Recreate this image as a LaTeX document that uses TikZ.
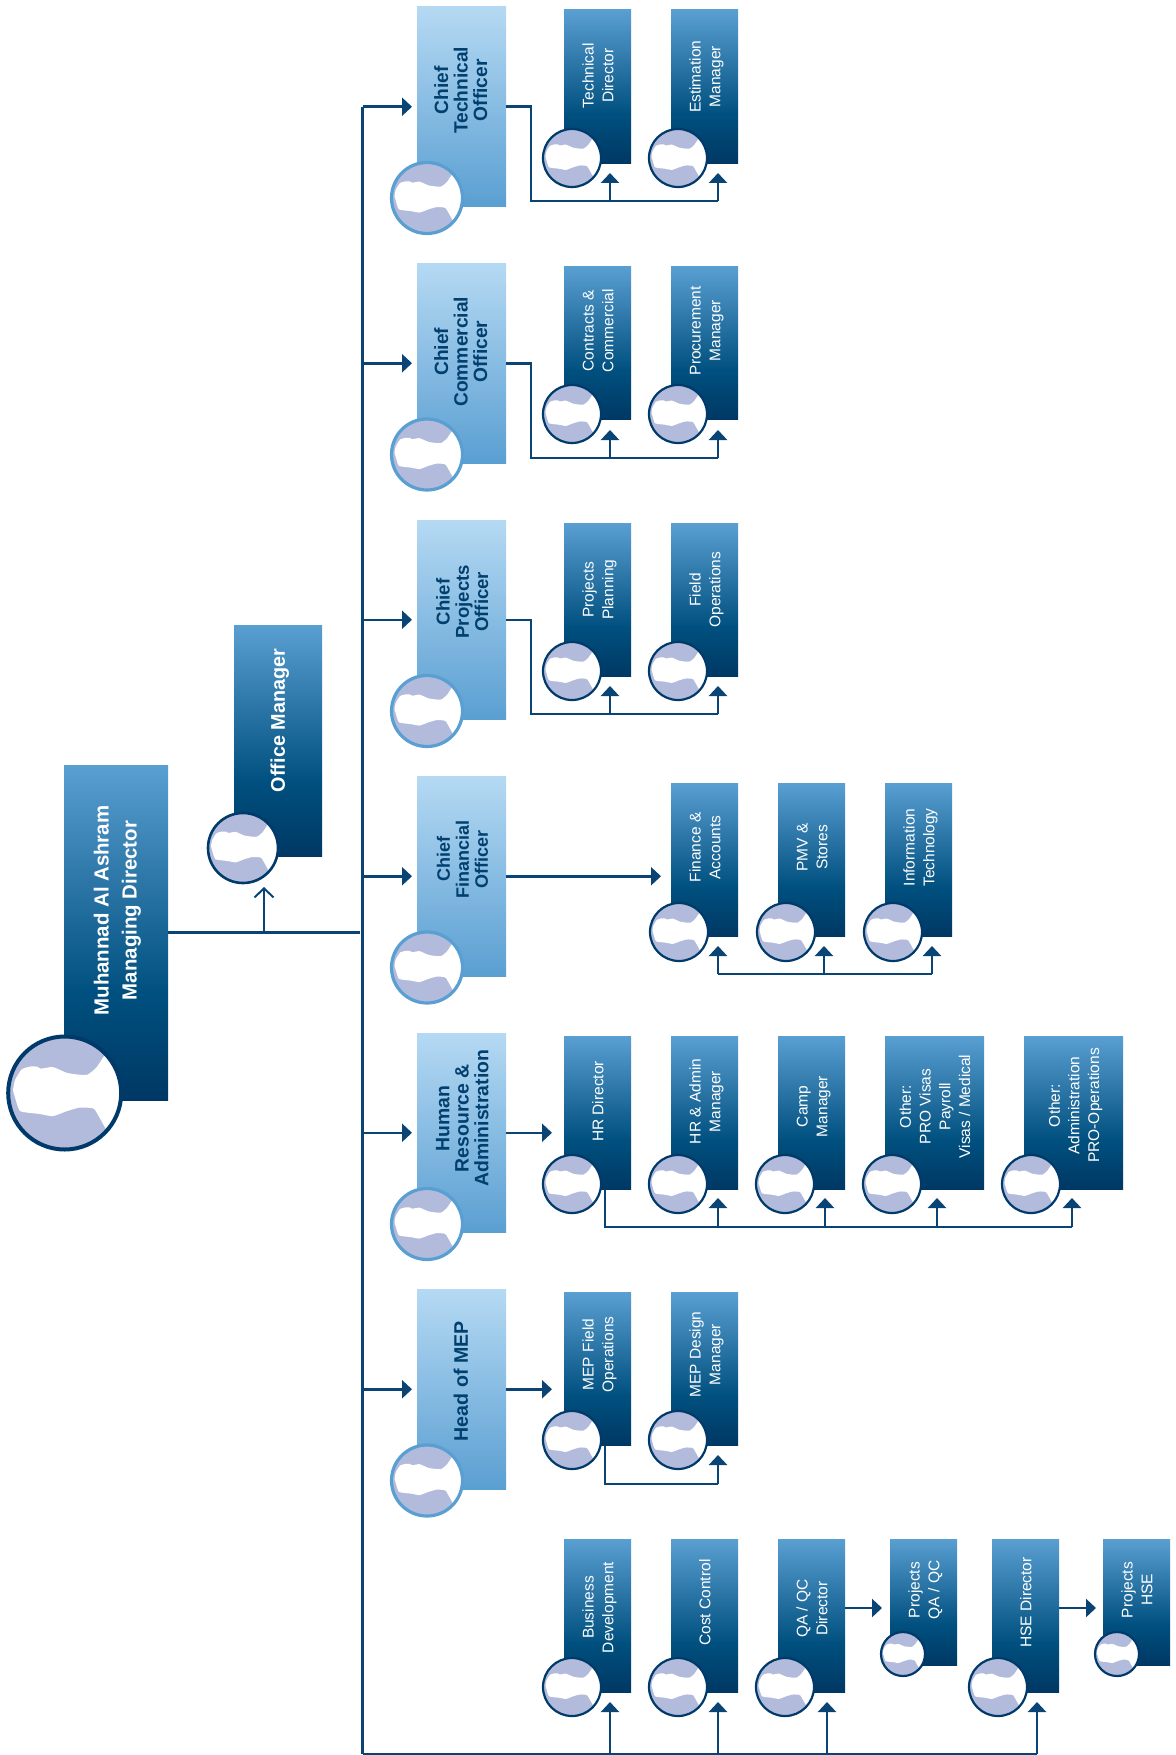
\documentclass[tikz,border=0pt]{standalone}
\usepackage{fontspec}
\usepackage{graphicx}
\setmainfont{Liberation Sans}
\usetikzlibrary{arrows.meta,calc}
\definecolor{navy}{HTML}{0A4474}
\definecolor{ringdark}{HTML}{003A6A}
\definecolor{ringlight}{HTML}{5A9FD2}
\definecolor{lilac}{HTML}{B3BBDC}
\definecolor{dkA}{HTML}{5A9FD2}
\definecolor{dkB}{HTML}{00507F}
\definecolor{dkC}{HTML}{003864}
\definecolor{ltA}{HTML}{B5D9F3}
\definecolor{ltB}{HTML}{5A9FD2}
\definecolor{chieftext}{HTML}{003F6E}
\pgfdeclareverticalshading{darkbox}{100bp}{color(0bp)=(dkC); color(25bp)=(dkC); color(41bp)=(dkB); color(75bp)=(dkA); color(100bp)=(dkA)}
\pgfdeclareverticalshading{lightbox}{100bp}{color(0bp)=(ltB); color(25bp)=(ltB); color(75bp)=(ltA); color(100bp)=(ltA)}
\newcommand{\blobshape}{%
  \fill[white] plot[smooth,tension=.3] coordinates {(-.88,.07)(-.914,-.05)(-.88,-.23)(-.76,-.42)(-.6,-.47)(-.485,-.466)(-.42,-.43)(-.21,-.46)(.04,-.356)(.25,-.325)(.405,-.325)(.56,-.45)(.72,-.69)}
   -- (1.1,-.69) -- (1.1,.66) -- (.74,.66) -- plot[smooth,tension=.3] coordinates {(.74,.66)(.53,.29)(.4,.26)(.25,.26)(.04,.32)(-.21,.41)(-.45,.37)(-.79,.32)(-.88,.07)} -- cycle;}
\tikzset{
  boxbase/.style={rectangle,inner sep=0pt,outer sep=0pt,anchor=north west},
  kidbox/.style={boxbase,shading=darkbox,text=white},
  chiefbox/.style={boxbase,shading=lightbox,text=chieftext,minimum width=89pt,minimum height=199.5pt},
  portrait/.style={circle,inner sep=0pt,outer sep=0pt,minimum size=#1,fill=lilac,
    path picture={\begin{scope}[shift={(path picture bounding box.center)},x={#1*0.5pt},y={#1*-0.5pt}]\blobshape\end{scope}}},
  kidring/.style={portrait=#1,draw=ringdark,line width=2.2pt},
  chiefring/.style={portrait=71,draw=ringlight,line width=3.2pt},
  link/.style={draw=navy,line width=2.5pt},
  tip/.style={-{Triangle[length=10pt,width=18pt]},draw=navy,fill=navy,line width=2.5pt},
  opentip/.style={-{Straight Barb[length=9pt,width=19pt]},draw=navy,line width=2pt},
}
% rotated multi-line label: #1 size, #2 leading, #3 upward shift doubled, #4 lines
\newcommand{\vtext}[4]{\hspace*{4pt}\rotatebox{90}{\hspace*{#3pt}\fontsize{#1}{#2}\selectfont\begin{tabular}{@{}c@{}}#4\end{tabular}}}
\newcommand{\bvtext}[5][4]{\hspace*{#1pt}\rotatebox{90}{\hspace*{#4pt}\bfseries\fontsize{#2}{#3}\selectfont\begin{tabular}{@{}c@{}}#5\end{tabular}}}
\newcommand{\kid}[7][67]{% width, name, x, y, height, shift, text
  \node[kidbox,minimum width=#1pt,minimum height=#5pt] (#2) at (#3,#4) {\vtext{15.5}{19.7}{#6}{#7}};
}
\newcommand{\kidface}[4][58]{\node[kidring=#1] (#2) at (#3,#4) {};}
\newcommand{\chief}[7]{% name, y, shift, size, side shift, text, face y
  \node[chiefbox] (#1) at (417,#2) {\bvtext[#5]{#4}{19}{#3}{#6}};
  \node[chiefring] (#1face) at (427,#7) {};
}
\begin{document}
\begin{tikzpicture}[x=1pt,y=-1pt]
\useasboundingbox (0,0) rectangle (1175,1755);
\coordinate (trunktop) at (362.5,107);
\coordinate (trunkbottom) at (362.5,1754);

% Managing director
\node[kidbox,minimum width=104pt,minimum height=335pt] (md) at (64,765) {\bvtext[2]{20.4}{28}{44}{Muhannad Al Ashram\\Managing Director}};
\node[kidring=113,line width=4pt] (mdface) at (64.7,1093) {};
% Office manager
\node[kidbox,minimum width=88pt,minimum height=231pt] (office) at (234,625) {\bvtext{19.8}{24}{40}{Office Manager}};
\node[kidring=70,line width=2.6pt] (officeface) at (243,848) {};

% Chiefs
\chief{cto}{7}{33}{19.2}{4}{Chief\\Technical\\Officer}{198}
\chief{cco}{263.5}{23}{19.2}{4}{Chief\\Commercial\\Officer}{454.5}
\chief{cpo}{520}{36}{18.6}{7}{Chief\\Projects\\Officer}{711}
\chief{cfo}{776.5}{34}{18}{7}{Chief\\Financial\\Officer}{967.5}
\chief{hra}{1033}{29}{19.4}{7}{Human\\Resource \&\\Administration}{1224}
\chief{mep}{1289.5}{16}{19.6}{4}{Head of MEP}{1480.5}

% Row 0
\kid{td}{564}{10}{153.5}{22}{Technical\\Director}\kidface{tdf}{572}{158}
\kid{em}{671}{10}{153.5}{20}{Estimation\\Manager}\kidface{emf}{678}{158}
% Row 1
\kid{cc}{564}{266}{153.5}{24}{Contracts \&\\Commercial}\kidface{ccf}{572}{414}
\kid{pm}{671}{266}{153.5}{24}{Procurement\\Manager}\kidface{pmf}{678}{414}
% Row 2
\kid{pp}{564}{523}{153.5}{20}{Projects\\Planning}\kidface{ppf}{572}{671}
\kid{fo}{671}{523}{153.5}{20}{Field\\Operations}\kidface{fof}{678}{671}
% Row 3
\kid{fa}{671}{783}{153}{24}{Finance \&\\Accounts}\kidface{faf}{679}{932}
\kid{ps}{778}{783}{153}{24}{PMV \&\\Stores}\kidface{psf}{786}{932}
\kid{it}{885}{783}{153}{24}{Information\\Technology}\kidface{itf}{893}{932}
% Row 4
\kid{hd}{564}{1036}{153}{22}{HR Director}\kidface{hdf}{572}{1184}
\kid{ha}{671}{1036}{153}{22}{HR \& Admin\\Manager}\kidface{haf}{678}{1184}
\kid{cm}{778}{1036}{153}{12}{Camp\\Manager}\kidface{cmf}{785}{1184}
\kid[99]{ot}{885}{1036}{153}{12}{Other:\\PRO Visas\\Payroll\\Visas / Medical}\kidface{otf}{892}{1184}
\kid[99]{oa}{1024}{1036}{153}{14}{Other:\\Administration\\PRO-Operations}\kidface{oaf}{1031}{1184}
% Row 5
\kid{mf}{564}{1292}{153}{28}{MEP Field\\Operations}\kidface{mff}{572}{1440}
\kid{md2}{671}{1292}{153}{28}{MEP Design\\Manager}\kidface{mdf}{678}{1440}
% Row 6
\kid{bd}{564}{1539}{153}{16}{Business\\Development}\kidface{bdf}{572}{1687}
\kid{co}{671}{1539}{153}{26}{Cost Control}\kidface{cof}{678}{1687}
\kid{qa}{778}{1539}{153}{14}{QA / QC\\Director}\kidface{qaf}{785}{1687}
\kid{pq}{890}{1539}{126}{24}{Projects\\QA / QC}\kidface[44]{pqf}{903}{1654}
\kid{hs}{992}{1539}{153}{26}{HSE Director}\kidface{hsf}{998}{1687}
\kid{ph}{1103}{1539}{126}{24}{Projects\\HSE}\kidface[44]{phf}{1117}{1654}

% Trunk and branches
\draw[link] (trunktop) -- (trunkbottom);
\draw[link] (md.east) -- ($(trunktop |- md.east)+(-2.5,0)$);
\coordinate (officetap) at (264,932);
\coordinate (officetip) at (264,887);
\draw[opentip] (officetap) -- (officetip);
\foreach \c in {cto,cco,cpo,cfo,hra,mep}
  \draw[tip,shorten >=5pt] (trunktop |- \c.west) -- (\c.west);

% Row 0-2 buses
\foreach \c/\b in {cto/201,cco/458,cpo/714}{
  \coordinate (busL) at (531,\b);
  \coordinate (busM) at (610,\b);
  \coordinate (busR) at (718,\b);
  \draw[link] (\c.east) -| (busL) -- (busR);
  \draw[tip] (busM) -- ++(0,-28);
  \draw[tip] (busR) -- ++(0,-28);
}
% Row 3
\draw[tip,shorten >=10pt] (cfo.east) -- (cfo.east -| fa.west);
\coordinate (fbusA) at (718,974);
\coordinate (fbusB) at (824,974);
\coordinate (fbusC) at (932,974);
\draw[link] (fbusA) -- (fbusC);
\foreach \p in {fbusA,fbusB,fbusC} \draw[tip] (\p) -- ++(0,-28);
% Row 4
\draw[tip,shorten >=12pt] (hra.east) -- (hd.west |- hra.east);
\coordinate (hbusS) at (605,1189);
\coordinate (hbusL) at (605,1227);
\coordinate (hbusA) at (718,1227);
\coordinate (hbusB) at (825,1227);
\coordinate (hbusC) at (937,1227);
\coordinate (hbusD) at (1072,1227);
\draw[link] (hbusS) -- (hbusL) -- (hbusD);
\foreach \p in {hbusA,hbusB,hbusC,hbusD} \draw[tip] (\p) -- ++(0,-29);
% Row 5
\draw[tip,shorten >=12pt] (mep.east) -- (mf.west |- mep.east);
\coordinate (mbusS) at (605,1445);
\coordinate (mbusL) at (605,1484);
\coordinate (mbusR) at (718,1484);
\draw[link] (mbusS) -- (mbusL) -- (mbusR);
\draw[tip] (mbusR) -- ++(0,-29);
% Row 6
\coordinate (bbusA) at (610,1754);
\coordinate (bbusB) at (718,1754);
\coordinate (bbusC) at (827,1754);
\coordinate (bbusD) at (1037,1754);
\draw[link] (trunkbottom) -- (bbusD);
\foreach \p in {bbusA,bbusB,bbusC,bbusD} \draw[tip] (\p) -- ++(0,-52);
\draw[tip] (qa.east |- 0,1608) -- (882,1608);
\draw[tip] (hs.east |- 0,1608) -- (1096,1608);
\end{tikzpicture}
\end{document}
